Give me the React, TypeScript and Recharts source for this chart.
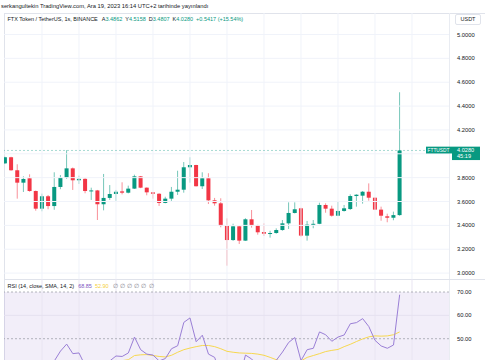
import React from 'react';
import { ComposedChart, Bar, Line, XAxis, YAxis, ReferenceLine, ReferenceArea } from 'recharts';

// OHLC of the 65 visible 1-day candles
const opens = [
  3.920, 3.971, 3.862, 3.758, 3.795, 3.688, 3.540, 3.644, 3.562, 3.722,
  3.800, 3.878, 3.778, 3.790, 3.688, 3.693, 3.577, 3.630, 3.663, 3.685,
  3.674, 3.708, 3.811, 3.716, 3.677, 3.665, 3.588, 3.624, 3.682, 3.699,
  3.887, 3.906, 3.728, 3.795, 3.610, 3.585, 3.397, 3.277, 3.392, 3.272,
  3.451, 3.401, 3.344, 3.330, 3.336, 3.361, 3.417, 3.504, 3.543, 3.314,
  3.406, 3.413, 3.571, 3.540, 3.481, 3.521, 3.537, 3.646, 3.649, 3.682,
  3.632, 3.532, 3.476, 3.464, 3.4862,
];
const highs = [
  3.975, 3.975, 3.912, 3.811, 3.828, 3.692, 3.666, 3.655, 3.845, 3.822,
  4.030, 3.885, 3.817, 3.795, 3.716, 3.697, 3.831, 3.738, 3.697, 3.761,
  3.733, 3.825, 3.814, 3.718, 3.680, 3.670, 3.640, 3.722, 3.858, 3.931,
  3.971, 3.908, 3.845, 3.837, 3.630, 3.627, 3.459, 3.414, 3.395, 3.460,
  3.529, 3.405, 3.417, 3.355, 3.375, 3.445, 3.593, 3.593, 3.548, 3.437,
  3.445, 3.590, 3.585, 3.565, 3.599, 3.571, 3.660, 3.661, 3.688, 3.752,
  3.634, 3.557, 3.498, 3.515, 4.5158,
];
const lows = [
  3.915, 3.858, 3.624, 3.680, 3.682, 3.523, 3.518, 3.535, 3.531, 3.703,
  3.790, 3.697, 3.747, 3.669, 3.613, 3.445, 3.526, 3.613, 3.605, 3.660,
  3.668, 3.705, 3.712, 3.652, 3.624, 3.563, 3.585, 3.605, 3.655, 3.674,
  3.758, 3.726, 3.705, 3.579, 3.565, 3.384, 3.062, 3.270, 3.244, 3.270,
  3.381, 3.322, 3.311, 3.297, 3.330, 3.355, 3.370, 3.500, 3.305, 3.272,
  3.376, 3.410, 3.506, 3.473, 3.478, 3.515, 3.529, 3.557, 3.582, 3.607,
  3.530, 3.439, 3.426, 3.443, 3.4807,
];
const closes = [
  3.971, 3.862, 3.758, 3.789, 3.688, 3.540, 3.644, 3.562, 3.722, 3.800,
  3.878, 3.778, 3.790, 3.688, 3.693, 3.577, 3.630, 3.663, 3.682, 3.674,
  3.708, 3.811, 3.716, 3.677, 3.665, 3.588, 3.624, 3.682, 3.699, 3.887,
  3.906, 3.728, 3.795, 3.610, 3.585, 3.397, 3.277, 3.392, 3.272, 3.451,
  3.401, 3.342, 3.330, 3.336, 3.361, 3.417, 3.504, 3.535, 3.314, 3.406,
  3.413, 3.571, 3.540, 3.481, 3.521, 3.543, 3.646, 3.657, 3.682, 3.632,
  3.532, 3.481, 3.464, 3.486, 4.028,
];

// RSI(14) and its SMA(14)
const rsiValues = [
  38, 35, 30, 32, 29, 26, 32, 30, 40.5, 44.7,
  47.7, 43.6, 43.9, 38.5, 38.8, 33, 37, 40.5, 42.6, 42.4,
  43.9, 50.7, 45.3, 43.4, 43.0, 40.5, 41.5, 45.7, 47.0, 57.0,
  58.9, 48.7, 51.5, 43.4, 42.0, 34, 29, 36, 33, 43.0,
  41.3, 38.5, 38, 38.5, 40.8, 44.3, 48.4, 50.5, 40.6, 45.3,
  45.9, 52.9, 51.7, 48.9, 50.7, 51.6, 56.4, 56.9, 58.6, 55.2,
  49.3, 46.9, 45.9, 47.3, 68.85,
];
const rsiSma = [
  40.2, 39.8, 39.2, 38.8, 38.3, 37.8, 37.5, 37.2, 37.3, 37.6,
  38.0, 38.3, 38.6, 38.8, 39.0, 39.2, 39.5, 39.8, 40.2, 40.6,
  41.0, 42.8, 43.1, 43.2, 42.8, 42.4, 42.2, 42.9, 44.2, 45.3,
  46.0, 46.6, 47.1, 47.1, 46.6, 45.7, 44.6, 44.2, 43.9, 43.8,
  43.7, 43.4, 42.9, 42.0, 41.0, 40.2, 39.6, 39.6, 40.5, 42.0,
  42.8, 43.6, 44.5, 45.0, 45.4, 46.6, 47.6, 48.8, 49.9, 50.8,
  51.2, 51.1, 51.2, 51.7, 52.9,
];

const priceTicks = [3.0, 3.2, 3.4, 3.6, 3.8, 4.2, 4.4, 4.6, 4.8, 5.0];
const gridPrices = [3.0, 3.2, 3.4, 3.6, 3.8, 4.0, 4.2, 4.4, 4.6, 4.8, 5.0];
const timeGrid = [6, 12, 18, 24, 30, 36, 42, 48, 54, 60, 66];
const rsiTicks = [50, 60, 70];
const lastClose = 4.028;

const candles = opens.map((o, i) => ({
  i,
  open: o,
  high: highs[i],
  low: lows[i],
  close: closes[i],
  rsi: rsiValues[i],
  sma: rsiSma[i],
}));

const GREEN = '#089981';
const RED = '#f23645';
const GRID = '#f0f3fa';
const FONT = '"Liberation Sans", Arial, sans-serif';

const Candle = (props: any) => {
  const { x, y, width, height, payload } = props;
  if (!payload) return null;
  const { open, close, high, low } = payload;
  const top = Math.min(y, y + height);
  const h = Math.abs(height);
  const k = h / (high - low);
  const yOpen = top + (high - open) * k;
  const yClose = top + (high - close) * k;
  const color = close >= open ? GREEN : RED;
  const cx = x + width / 2;
  return (
    <g>
      <line x1={cx} x2={cx} y1={top} y2={top + h} stroke={color} strokeOpacity={0.55} />
      <rect
        x={x}
        y={Math.min(yOpen, yClose)}
        width={width}
        height={Math.max(Math.abs(yOpen - yClose), 1)}
        fill={color}
      />
    </g>
  );
};

const PriceTag = (props: any) => {
  const { viewBox } = props;
  if (!viewBox) return null;
  const right = viewBox.x + viewBox.width;
  const y = viewBox.y;
  return (
    <g fontFamily={FONT} fontSize={5.6}>
      <rect x={right - 23} y={y - 3.8} width={26} height={6.8} fill={GREEN} />
      <text x={right - 21.5} y={y + 1.9} fill="#fff" textLength={22} lengthAdjust="spacingAndGlyphs">
        FTTUSDT
      </text>
      <rect x={right + 3} y={y - 3.8} width={28} height={13.4} fill={GREEN} />
      <text x={right + 8} y={y + 1.9} fill="#fff">{lastClose.toFixed(4)}</text>
      <text x={right + 8} y={y + 8} fill="#fff">45:19</text>
    </g>
  );
};

const xAxisProps = {
  type: 'number' as const,
  dataKey: 'i',
  domain: [-0.162, 72] as [number, number],
  hide: true,
  allowDataOverflow: true,
};

export default function App() {
  return (
    <div
      style={{
        position: 'fixed',
        left: 0,
        top: 0,
        width: 485,
        height: 360,
        overflow: 'hidden',
        background: '#fff',
        fontFamily: FONT,
        color: '#131722',
      }}
    >
      {/* pane frame, under the charts */}
      <div style={{ position: 'absolute', left: 4, top: 12.5, width: 481, height: 1, background: '#e0e3eb' }} />
      <div style={{ position: 'absolute', left: 4, top: 12.5, width: 1, height: 348, background: '#e0e3eb' }} />
      <div style={{ position: 'absolute', left: 449, top: 12.5, width: 1, height: 348, background: '#e9ecf2' }} />
      <div style={{ position: 'absolute', left: 4, top: 278.5, width: 481, height: 1, background: '#e0e3eb' }} />

      <div style={{ position: 'absolute', left: 1, top: 2.5, fontSize: 5.8, lineHeight: '7px', whiteSpace: 'nowrap' }}>
        serkangultekin TradingView.com, Ara 19, 2023 16:14 UTC+2 tarihinde yayınlandı
      </div>

      <div style={{ position: 'absolute', left: 0, top: 0 }}>
        <ComposedChart width={485} height={279} data={candles} margin={{ top: 13, right: 0, bottom: 0, left: 4 }}>
          <XAxis {...xAxisProps} />
          <YAxis
            orientation="right"
            width={36}
            domain={[2.9505, 5.1802]}
            ticks={priceTicks}
            tickFormatter={(v: number) => v.toFixed(4)}
            axisLine={false}
            tickLine={false}
            tick={{ fontSize: 5.8, fill: '#131722', fontFamily: FONT }}
            allowDataOverflow
          />
          {gridPrices.map((p) => (
            <ReferenceLine key={'h' + p} y={p} stroke={GRID} />
          ))}
          {timeGrid.map((t) => (
            <ReferenceLine key={'v' + t} x={t} stroke={GRID} />
          ))}
          <Bar
            dataKey={(d: any) => [d.low, d.high]}
            barSize={4}
            shape={<Candle />}
            isAnimationActive={false}
          />
          <ReferenceLine
            y={lastClose}
            stroke={GREEN}
            strokeOpacity={0.35}
            strokeDasharray="2 2"
            label={<PriceTag />}
          />
        </ComposedChart>
      </div>

      <div style={{ position: 'absolute', left: 0, top: 279 }}>
        <ComposedChart width={485} height={120} data={candles} margin={{ top: 0, right: 0, bottom: 0, left: 4 }}>
          <XAxis {...xAxisProps} />
          <YAxis
            orientation="right"
            width={36}
            domain={[24.18, 75.57]}
            ticks={rsiTicks}
            tickFormatter={(v: number) => v.toFixed(2)}
            axisLine={false}
            tickLine={false}
            tick={{ fontSize: 5.8, fill: '#131722', fontFamily: FONT }}
            allowDataOverflow
          />
          <ReferenceArea y1={30} y2={70} fill="#7e57c2" fillOpacity={0.1} stroke="none" />
          {timeGrid.map((t) => (
            <ReferenceLine key={'rv' + t} x={t} stroke="#e9e5f2" />
          ))}
          <ReferenceLine y={60} stroke="#e6e1f0" />
          <ReferenceLine y={70} stroke="#9598a1" strokeOpacity={0.7} strokeDasharray="2 2" />
          <ReferenceLine y={50} stroke="#9598a1" strokeOpacity={0.7} strokeDasharray="2 2" />
          <ReferenceLine y={30} stroke="#9598a1" strokeOpacity={0.7} strokeDasharray="2 2" />
          <Line dataKey="sma" type="linear" stroke="#f7d84f" strokeWidth={1} dot={false} isAnimationActive={false} />
          <Line dataKey="rsi" type="linear" stroke="#9a7fd6" strokeWidth={1} dot={false} isAnimationActive={false} />
        </ComposedChart>
      </div>

      <div
        style={{
          position: 'absolute',
          left: 7.5,
          top: 15.5,
          fontSize: 5.5,
          lineHeight: '7px',
          whiteSpace: 'nowrap',
        }}
      >
        FTX Token / TetherUS, 1s, BINANCE
        <span style={{ marginLeft: 4 }}>A</span>
        <span style={{ color: GREEN }}>3.4862</span>
        <span style={{ marginLeft: 3 }}>Y</span>
        <span style={{ color: GREEN }}>4.5158</span>
        <span style={{ marginLeft: 3 }}>D</span>
        <span style={{ color: GREEN }}>3.4807</span>
        <span style={{ marginLeft: 3 }}>K</span>
        <span style={{ color: GREEN }}>4.0280</span>
        <span style={{ color: GREEN, marginLeft: 3 }}>+0.5417 (+15.54%)</span>
      </div>

      <div
        style={{
          position: 'absolute',
          left: 455,
          top: 14,
          width: 24,
          height: 9,
          border: '1px solid #e0e3eb',
          borderRadius: 2,
          fontSize: 5.5,
          lineHeight: '9px',
          textAlign: 'center',
          background: '#fff',
        }}
      >
        USDT
      </div>

      <div
        style={{
          position: 'absolute',
          left: 7.5,
          top: 282.5,
          fontSize: 5.5,
          lineHeight: '7px',
          whiteSpace: 'nowrap',
        }}
      >
        RSI (14, close, SMA, 14, 2)
        <span style={{ color: '#7e57c2', marginLeft: 4 }}>68.85</span>
        <span style={{ color: '#f5cf3a', marginLeft: 3 }}>52.90</span>
        <span style={{ color: '#787b86', marginLeft: 4, letterSpacing: 2.2 }}>∅∅∅∅∅∅</span>
      </div>
    </div>
  );
}
